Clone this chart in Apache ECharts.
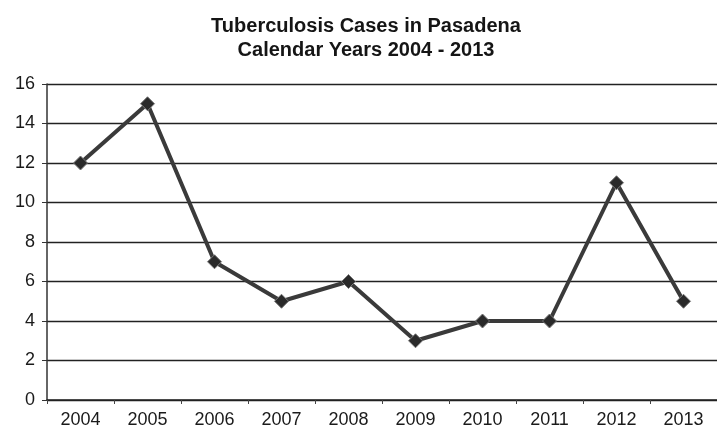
<!DOCTYPE html>
<html>
<head>
<meta charset="utf-8">
<script src="https://cdn.jsdelivr.net/npm/echarts@6/dist/echarts.min.js"></script>
<style>
  html, body { margin: 0; padding: 0; background: #fff; }
  #chart { width: 717px; height: 436px; }
</style>
</head>
<body>
<div id="chart"></div>
<script>
// data
const years = ['2004', '2005', '2006', '2007', '2008', '2009', '2010', '2011', '2012', '2013'];
const cases = [12, 15, 7, 5, 6, 3, 4, 4, 11, 5];
const yTicks = [0, 2, 4, 6, 8, 10, 12, 14, 16];

const chart = echarts.init(document.getElementById('chart'));

chart.setOption({
  backgroundColor: '#ffffff',
  animation: false,
  title: {
    text: 'Tuberculosis Cases in Pasadena\nCalendar Years 2004 - 2013',
    left: 361,
    textAlign: 'center',
    top: 9,
    textStyle: {
      fontFamily: 'Liberation Sans, Arial',
      fontSize: 20,
      fontWeight: 'bold',
      color: '#151515',
      lineHeight: 24
    }
  },
  grid: {
    left: 47,
    top: 84,
    width: 677,
    height: 316
  },
  xAxis: {
    type: 'category',
    data: years,
    boundaryGap: true,
    axisLine: { lineStyle: { color: '#222', width: 1.5 } },
    axisTick: { show: true, length: 4, lineStyle: { color: '#444' } },
    axisLabel: {
      color: '#1a1a1a',
      fontFamily: 'Liberation Sans, Arial',
      fontSize: 18,
      margin: 11
    }
  },
  yAxis: {
    type: 'value',
    min: yTicks[0],
    max: yTicks[yTicks.length - 1],
    interval: 2,
    axisLine: { show: true, lineStyle: { color: '#333', width: 1.5 } },
    axisTick: { show: true, length: 5, lineStyle: { color: '#333' } },
    axisLabel: {
      color: '#1a1a1a',
      fontFamily: 'Liberation Sans, Arial',
      fontSize: 18,
      margin: 12
    },
    splitLine: { show: true, lineStyle: { color: '#222', width: 1.3 } }
  },
  series: [
    {
      name: 'Cases',
      type: 'line',
      data: cases,
      symbol: 'diamond',
      symbolSize: 14,
      itemStyle: { color: '#2a2a2a', borderColor: '#777', borderWidth: 1 },
      lineStyle: { color: '#3a3a3a', width: 4 }
    }
  ]
});
</script>
</body>
</html>
